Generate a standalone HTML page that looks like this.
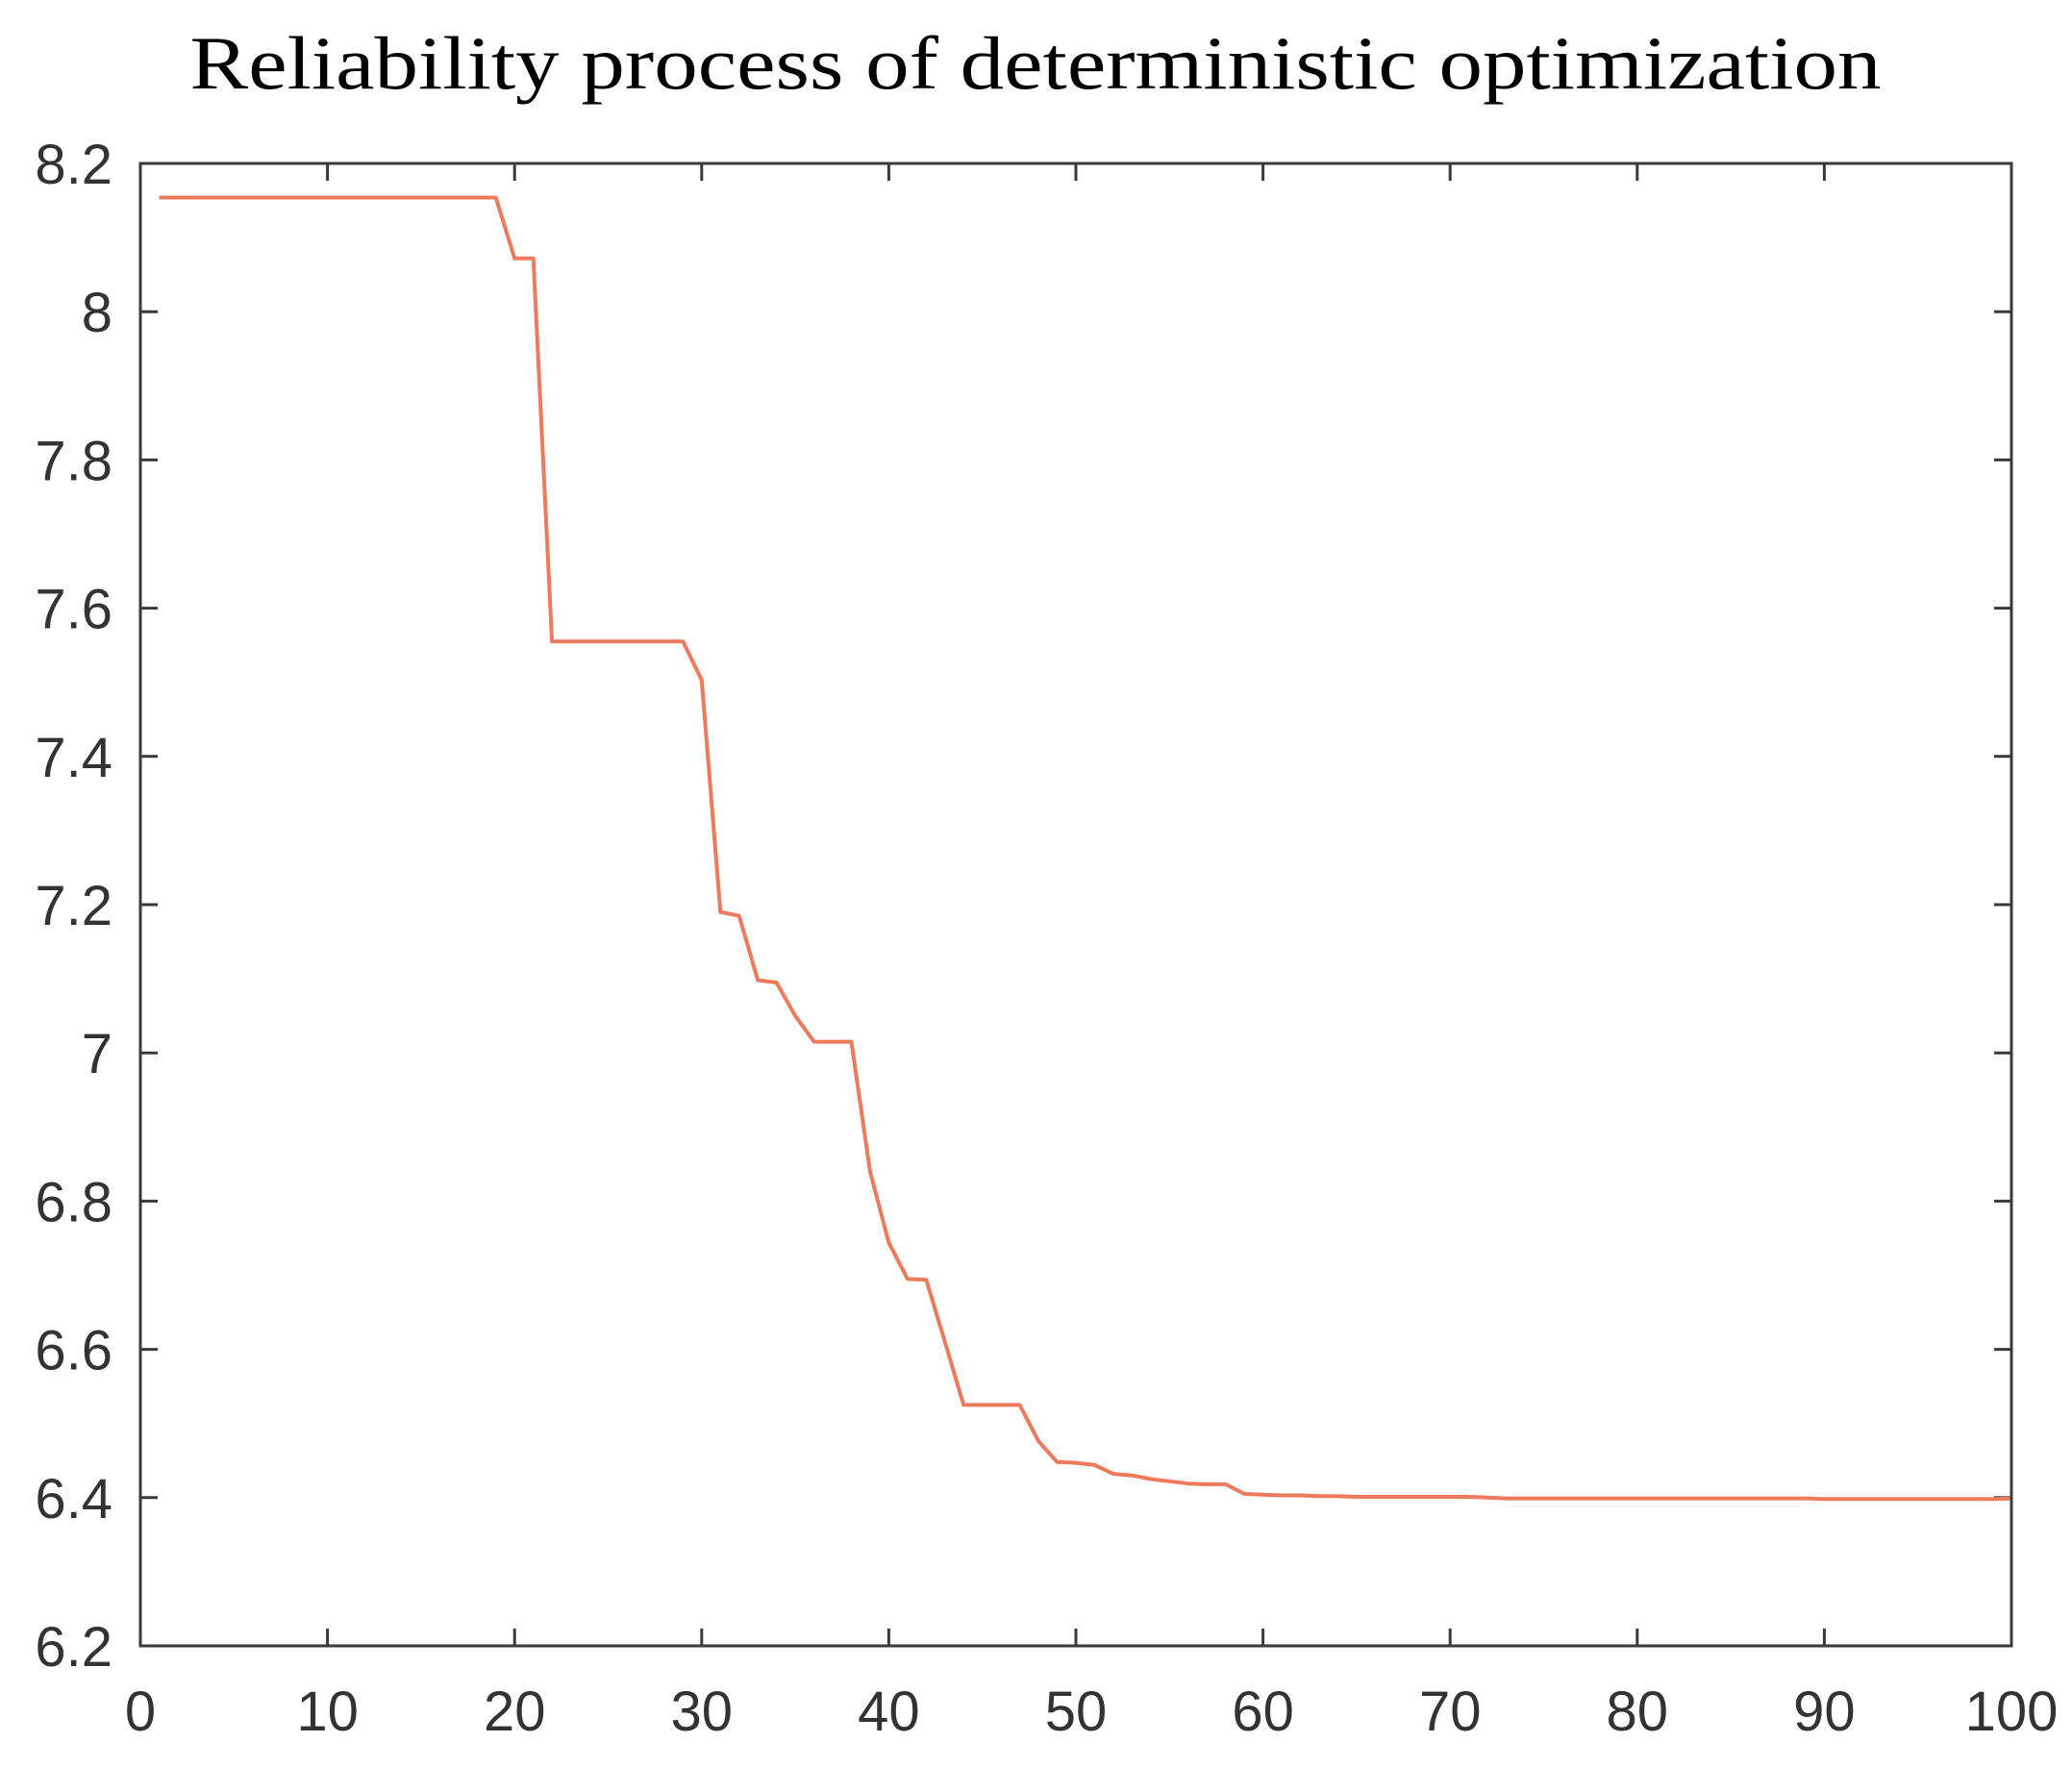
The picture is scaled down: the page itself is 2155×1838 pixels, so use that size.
<!DOCTYPE html>
<html><head><meta charset="utf-8"><style>
html,body{margin:0;padding:0;background:#fff;}
svg{display:block;}
</style></head><body>
<svg id="chart" width="2155" height="1838" viewBox="0 0 2155 1838" xmlns="http://www.w3.org/2000/svg">
<rect x="0" y="0" width="2155" height="1838" fill="#fff"/>
<text x="1077" y="92" text-anchor="middle" font-family="Liberation Serif, serif" font-size="78" textLength="1759" lengthAdjust="spacingAndGlyphs" fill="#000">Reliability process of deterministic optimization</text>
<g id="grid"></g>
<path id="series" fill="none" stroke="#ee7a5c" stroke-width="4" stroke-linejoin="round"/>
<rect x="146" y="170" width="1946" height="1542" fill="none" stroke="#3a3a3a" stroke-width="3"/>
</svg>
<script>
const xTicks = [0,10,20,30,40,50,60,70,80,90,100];
const yTicks = [6.2,6.4,6.6,6.8,7,7.2,7.4,7.6,7.8,8,8.2];
const yTickLabels = ["6.2","6.4","6.6","6.8","7","7.2","7.4","7.6","7.8","8","8.2"];
const iterations = [];
for (let i = 1; i <= 100; i++) iterations.push(i);
const reliability = [
8.154,8.154,8.154,8.154,8.154,8.154,8.154,8.154,8.154,8.154,
8.154,8.154,8.154,8.154,8.154,8.154,8.154,8.154,8.154,8.072,
8.072,7.555,7.555,7.555,7.555,7.555,7.555,7.555,7.555,7.503,
7.19,7.185,7.098,7.095,7.05,7.015,7.015,7.015,6.84,6.744,
6.695,6.694,6.61,6.525,6.525,6.525,6.525,6.476,6.448,6.447,
6.444,6.432,6.43,6.425,6.422,6.419,6.418,6.418,6.405,6.404,
6.403,6.403,6.402,6.402,6.401,6.401,6.401,6.401,6.401,6.401,
6.401,6.4,6.399,6.399,6.399,6.399,6.399,6.399,6.399,6.399,
6.399,6.399,6.399,6.399,6.399,6.399,6.399,6.399,6.399,6.398,
6.398,6.398,6.398,6.398,6.398,6.398,6.398,6.398,6.398,6.399
];
const X0=146,X1=2092,Y0=1712,Y1=170;
const xs = v => X0 + (v-0)/(100-0)*(X1-X0);
const ys = v => Y0 - (v-6.2)/(8.2-6.2)*(Y0-Y1);
const NS="http://www.w3.org/2000/svg";
const g=document.getElementById('grid');
function mk(tag,attrs){const e=document.createElementNS(NS,tag);for(const k in attrs)e.setAttribute(k,attrs[k]);return e;}
const tl=18;
xTicks.forEach(t=>{
  const x=xs(t);
  const a=mk('line',{x1:x,x2:x,y1:Y0,y2:Y0-tl,stroke:'#3a3a3a','stroke-width':3});
  
  
  g.appendChild(a);
  const b=mk('line',{x1:x,x2:x,y1:Y1,y2:Y1+tl,stroke:'#3a3a3a','stroke-width':3});
  
  
  g.appendChild(b);
  const tx=mk('text',{x:x,y:1800,'text-anchor':'middle','font-family':'Liberation Sans, sans-serif','font-size':58,fill:'#333'});
  tx.textContent=String(t);
  
  
  g.appendChild(tx);
});
yTicks.forEach((t,i)=>{
  const y=ys(t);
  const a=mk('line',{x1:X0,x2:X0+tl,y1:y,y2:y,stroke:'#3a3a3a','stroke-width':3});
  
  
  g.appendChild(a);
  const b=mk('line',{x1:X1,x2:X1-tl,y1:y,y2:y,stroke:'#3a3a3a','stroke-width':3});
  
  
  g.appendChild(b);
  const tx=mk('text',{x:117,y:y+21,'text-anchor':'end','font-family':'Liberation Sans, sans-serif','font-size':58,fill:'#333'});
  tx.textContent=yTickLabels[i];
  
  
  g.appendChild(tx);
});
let d='';
reliability.forEach((v,i)=>{d+=(i?'L':'M')+xs(iterations[i]).toFixed(1)+' '+ys(v).toFixed(1)+' ';});
document.getElementById('series').setAttribute('d',d);
</script>
</body></html>
